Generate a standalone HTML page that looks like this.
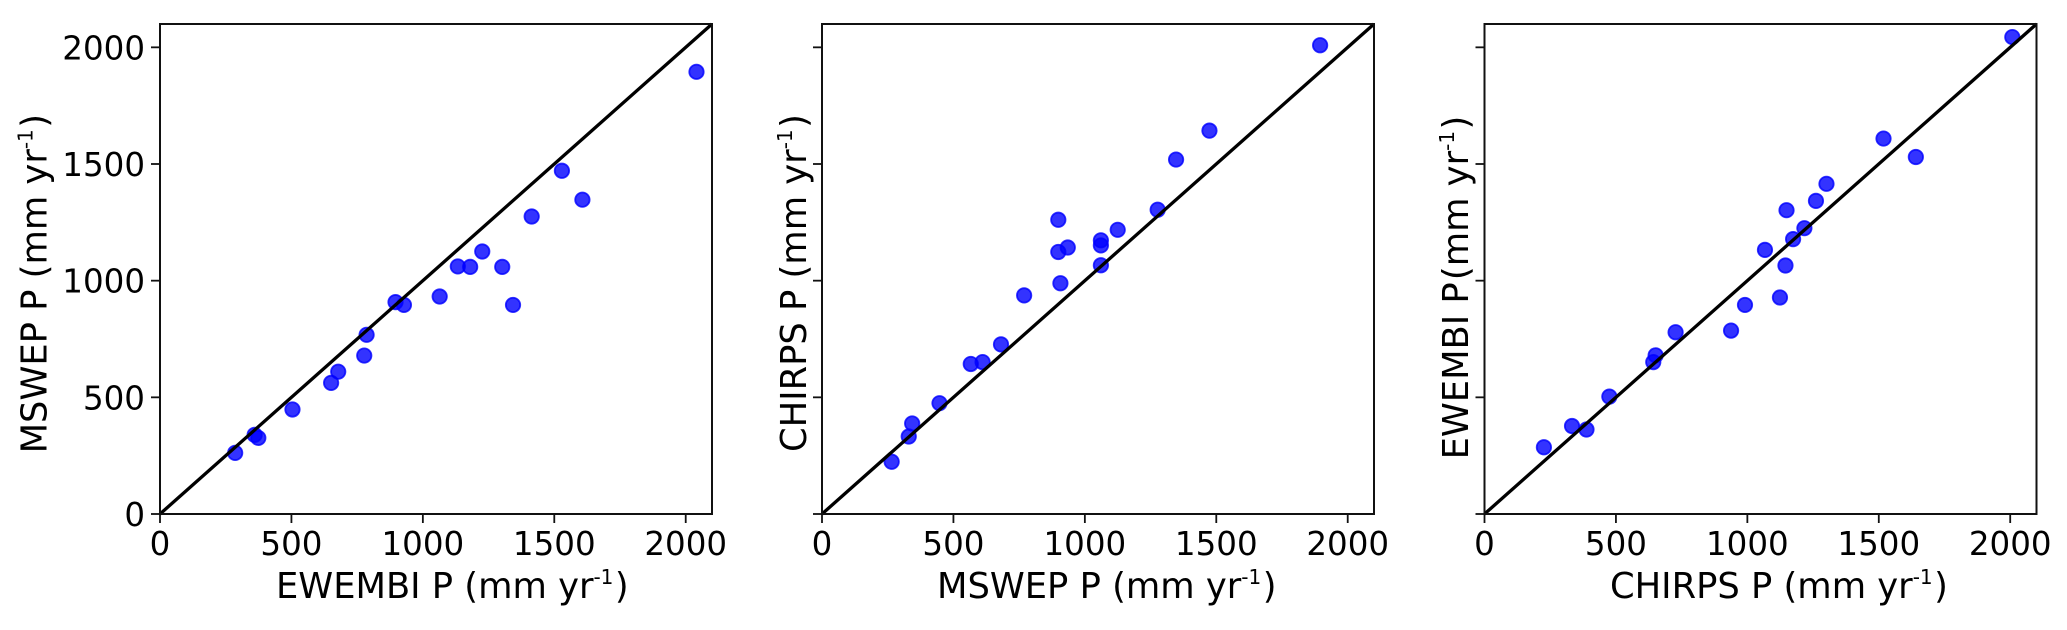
<!DOCTYPE html>
<html lang="en">
<head>
<meta charset="utf-8">
<title>Precipitation product comparison scatter plots</title>
<style>
html,body{margin:0;padding:0;background:#fff;width:2067px;height:630px;overflow:hidden}
svg{display:block}
text{font-family:"DejaVu Sans","Liberation Sans",sans-serif;fill:#000;font-size:32.5px}
text.title{font-size:35.3px}
.sup{font-size:20px}
</style>
</head>
<body>
<svg id="chart" xmlns="http://www.w3.org/2000/svg" width="2067" height="630" viewBox="0 0 2067 630">
  <rect x="0" y="0" width="2067" height="630" fill="#fff"/>
  <g id="panel-0"></g>
  <g id="panel-1"></g>
  <g id="panel-2"></g>

  <text class="title" x="276" y="598">EWEMBI P (mm yr<tspan class="sup" dy="-14">-1</tspan><tspan dx="1.5" dy="14">)</tspan></text>
  <text class="title" transform="translate(46.5,453.4) rotate(-90)">MSWEP P (mm yr<tspan class="sup" dy="-14">-1</tspan><tspan dx="1.5" dy="14">)</tspan></text>

  <text class="title" x="937" y="598">MSWEP P (mm yr<tspan class="sup" dy="-14">-1</tspan><tspan dx="1.5" dy="14">)</tspan></text>
  <text class="title" transform="translate(806,452) rotate(-90)">CHIRPS P (mm yr<tspan class="sup" dy="-14">-1</tspan><tspan dx="1.5" dy="14">)</tspan></text>

  <text class="title" x="1610" y="598">CHIRPS P (mm yr<tspan class="sup" dy="-14">-1</tspan><tspan dx="1.5" dy="14">)</tspan></text>
  <text class="title" transform="translate(1468,459.4) rotate(-90)">EWEMBI P<tspan dx="-9"> </tspan>(mm yr<tspan class="sup" dy="-14">-1</tspan><tspan dx="1.5" dy="14">)</tspan></text>
</svg>
<script>
var xTickValues = [0, 500, 1000, 1500, 2000];
var yTickValues = [0, 500, 1000, 1500, 2000];
var tickLabels = ["0", "500", "1000", "1500", "2000"];
var axisMax = [2100];

var ewembiX = [286, 360, 374, 504, 651, 678, 777, 786, 896, 928, 1064, 1133, 1180, 1226, 1302, 1343, 1414, 1529, 1607, 2041];
var mswepY = [262, 339, 326, 448, 562, 610, 679, 768, 908, 896, 932, 1061, 1059, 1125, 1059, 896, 1275, 1471, 1347, 1895];

var mswepX = [265, 330, 343, 447, 566, 611, 681, 769, 899, 899, 907, 935, 1061, 1061, 1061, 1125, 1277, 1347, 1474, 1895];
var chirpsY = [224, 332, 388, 475, 643, 651, 727, 937, 1261, 1123, 989, 1142, 1173, 1151, 1066, 1218, 1304, 1519, 1643, 2009];

var chirpsX = [226, 333, 388, 475, 642, 651, 727, 938, 991, 1124, 1067, 1145, 1149, 1174, 1217, 1261, 1301, 1518, 1641, 2008];
var ewembiY = [286, 377, 362, 503, 651, 680, 779, 786, 896, 928, 1132, 1065, 1302, 1178, 1225, 1342, 1415, 1609, 1530, 2044];

var NS = "http://www.w3.org/2000/svg";
var frames = [
  { left: 160, right: 712 },
  { left: 822, right: 1374 },
  { left: 1484.5, right: 2036.5 }
];
var frameTop = 24;
var frameBottom = 514;

function make(parent, tag, attrs) {
  var el = document.createElementNS(NS, tag);
  for (var k in attrs) { el.setAttribute(k, attrs[k]); }
  parent.appendChild(el);
  return el;
}

function drawPanel(index, xs, ys, showYLabels) {
  var g = document.getElementById("panel-" + index);
  var f = frames[index];
  var max = axisMax[0];
  function xScale(v) { return f.left + (v / max) * (f.right - f.left); }
  function yScale(v) { return frameBottom - (v / max) * (frameBottom - frameTop); }

  xTickValues.forEach(function (v, i) {
    var t = make(g, "line", { x1: xScale(v), x2: xScale(v), y1: frameBottom, y2: frameBottom + 9, stroke: "#111", "stroke-width": 1.8 });
    
    
    var l = make(g, "text", { x: xScale(v), y: 555, "text-anchor": "middle" });
    l.textContent = tickLabels[i];
    
    
  });

  yTickValues.forEach(function (v, i) {
    var t = make(g, "line", { x1: f.left - 9, x2: f.left, y1: yScale(v), y2: yScale(v), stroke: "#111", "stroke-width": 1.8 });
    
    
    if (showYLabels) {
      var l = make(g, "text", { x: f.left - 15, y: yScale(v) + 12, "text-anchor": "end" });
      l.textContent = tickLabels[i];
      
      
    }
  });

  xs.forEach(function (v, i) {
    var c = make(g, "circle", { cx: xScale(v), cy: yScale(ys[i]), r: 7.2, fill: "rgba(0,0,255,0.8)", stroke: "rgba(0,0,255,0.8)", "stroke-width": 1.8 });
    
    
  });

  var d = make(g, "line", { x1: xScale(0), y1: yScale(0), x2: xScale(max), y2: yScale(max), stroke: "#000", "stroke-width": 3.3 });
  
  

  var r = make(g, "rect", { x: f.left, y: frameTop, width: f.right - f.left, height: frameBottom - frameTop, fill: "none", stroke: "#111", "stroke-width": 2 });
  
  
}

drawPanel(0, ewembiX, mswepY, true);
drawPanel(1, mswepX, chirpsY, false);
drawPanel(2, chirpsX, ewembiY, false);
</script>
</body>
</html>
